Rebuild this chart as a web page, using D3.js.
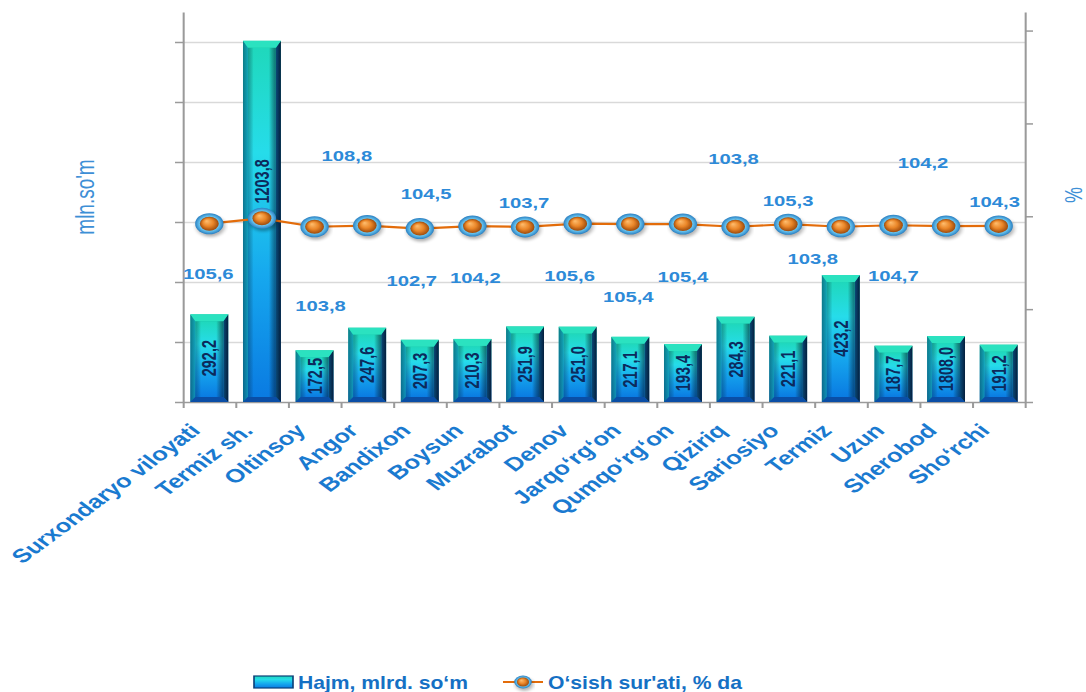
<!DOCTYPE html>
<html>
<head>
<meta charset="utf-8">
<script src="https://cdn.jsdelivr.net/npm/d3@7"></script>
<style>
  body { margin: 0; background: #fff; }
  svg { display: block; }
  text { font-family: "Liberation Sans", Arial, sans-serif; }
</style>
</head>
<body>
<div id="chart"></div>
<script>
// Chart data
const categories = ['Surxondaryo viloyati', 'Termiz sh.', 'Oltinsoy', 'Angor', 'Bandixon', 'Boysun', 'Muzrabot', 'Denov',
  'Jarqo‘rg‘on', 'Qumqo‘rg‘on', 'Qiziriq', 'Sariosiyo', 'Termiz', 'Uzun', 'Sherobod', 'Sho‘rchi'];
const volume = [292.2, 1203.8, 172.5, 247.6, 207.3, 210.3, 251.9, 251.0, 217.1, 193.4, 284.3, 221.1, 423.2, 187.7, 220.0, 191.2];
// printed bar labels (as they appear in the source, incl. the odd "1808,0")
const volumeText = ['292,2', '1203,8', '172,5', '247,6', '207,3', '210,3', '251,9', '251,0', '217,1', '193,4', '284,3', '221,1', '423,2', '187,7', '1808,0', '191,2'];
const growth = [105.6, 108.8, 103.8, 104.5, 102.7, 104.2, 103.7, 105.6, 105.4, 105.4, 103.8, 105.3, 103.8, 104.7, 104.2, 104.3];
const leftTicks = [0, 200, 400, 600, 800, 1000, 1200];
const rightTicks = [0, 55, 110, 165, 220];
const seriesNames = ['Hajm, mlrd. so‘m', 'O‘sish sur\'ati, % da'];

// label nudges, in screen pixels
const growthLabelShift = [[-1, 50], [85, -63], [6, 79], [59, -32], [-8, 52], [3, 52], [-1, -24], [-8, 52],
  [-2, 73], [0, 53], [-2, -68], [0, -24], [-28, 32], [0, 50], [-23, -63], [-4, -24]];
const volumeLabelShift = [0, -40, 0, 0, 0, 0, 0, 0, 0, 0, 0, 0, 0, 0, 0, 0];

// the source picture is stretched sideways, so draw in a scaled group
const SX = 1.35;
const u = p => p / SX;

const svg = d3.select('#chart').append('svg')
  .attr('width', 1086)
  .attr('height', 692);

const defs = svg.append('defs');

function linGrad(id, stops, horizontal) {
  const gr = defs.append('linearGradient').attr('id', id)
    .attr('x1', 0).attr('y1', 0)
    .attr('x2', horizontal ? 1 : 0).attr('y2', horizontal ? 0 : 1);
  stops.forEach(s => gr.append('stop').attr('offset', s[0]).attr('stop-color', s[1]).attr('stop-opacity', s[2] == null ? 1 : s[2]));
}
linGrad('barOuter', [[0, '#15c6a0'], [0.45, '#17a3d2'], [1, '#0a58b4']]);
linGrad('barInner', [[0, '#1fd8bc'], [0.3, '#26dcea'], [0.65, '#16a8ee'], [1, '#0a7be2']]);
linGrad('barShade', [[0, '#002a40', 0.35], [0.2, '#000', 0], [0.75, '#000', 0], [1, '#001830', 0.55]], true);
linGrad('barRight', [[0, '#0a4a78'], [1, '#041e3c']], true);
linGrad('barLeft', [[0, '#0b6a80'], [1, '#11a0b8']], true);

const ring = defs.append('radialGradient').attr('id', 'ring');
ring.append('stop').attr('offset', 0).attr('stop-color', '#c9efff');
ring.append('stop').attr('offset', 0.7).attr('stop-color', '#66c2ee');
ring.append('stop').attr('offset', 1).attr('stop-color', '#2a80c2');
const orange = defs.append('radialGradient').attr('id', 'orange').attr('fx', 0.35).attr('fy', 0.3);
orange.append('stop').attr('offset', 0).attr('stop-color', '#ffbf70');
orange.append('stop').attr('offset', 0.55).attr('stop-color', '#ea8628');
orange.append('stop').attr('offset', 1).attr('stop-color', '#9c4a0c');

defs.append('filter').attr('id', 'blur').append('feGaussianBlur').attr('stdDeviation', 1.6);

const g = svg.append('g').attr('transform', `scale(${SX},1)`);

// Scales
const x = d3.scaleBand()
  .domain(categories)
  .range([u(183), u(1025)])
  .paddingInner(0.28)
  .paddingOuter(0.14);
const yL = d3.scaleLinear().domain([0, 1300]).range([402, 12]);
const yR = d3.scaleLinear().domain([0, 231]).range([402, 12]);
const xEdge = d3.scaleLinear().domain([0, categories.length]).range([u(183), u(1025)]);

// Gridlines
g.append('g')
  .attr('transform', `translate(${u(183)},0)`)
  .call(d3.axisLeft(yL).tickValues(leftTicks.slice(1)).tickSize(-(u(1025) - u(183))).tickFormat(''))
  .call(s => s.select('.domain').remove())
  .selectAll('line').attr('stroke', '#d9d9d9').attr('stroke-width', 1.5);

// Axes (no tick labels in the source)
g.append('g')
  .attr('transform', `translate(${u(183)},0)`)
  .call(d3.axisLeft(yL).tickValues(leftTicks).tickFormat('').tickSize(u(8)).tickSizeOuter(0))
  .call(s => s.selectAll('path,line').attr('stroke', '#9a9a9a').attr('stroke-width', 1.5));

g.append('g')
  .attr('transform', `translate(${u(1025)},0)`)
  .call(d3.axisRight(yR).tickValues(rightTicks).tickFormat('').tickSize(u(8)).tickSizeOuter(0))
  .call(s => s.selectAll('path,line').attr('stroke', '#9a9a9a').attr('stroke-width', 1.5));

g.append('g')
  .attr('transform', 'translate(0,402)')
  .call(d3.axisBottom(xEdge).ticks(categories.length).tickFormat('').tickSize(6).tickSizeOuter(0))
  .call(s => s.selectAll('path,line').attr('stroke', '#9a9a9a').attr('stroke-width', 1.5));

// Bars
const bw = x.bandwidth();
const ins = u(5);
const bars = g.selectAll('.bar')
  .data(categories)
  .join('g')
  .attr('class', 'bar');

bars.each(function (c, i) {
  const b = d3.select(this);
  const x0 = x(c);
  const y0 = yL(volume[i]);
  const y1 = yL(0);
  b.append('rect').attr('x', x0).attr('y', y0).attr('width', bw).attr('height', y1 - y0).attr('fill', 'url(#barOuter)');
  // left and right bevels
  b.append('polygon')
    .attr('points', [[x0, y0], [x0 + ins, y0 + 7], [x0 + ins, y1 - 5], [x0, y1]].join(' '))
    .attr('fill', 'url(#barLeft)').attr('opacity', 0.8);
  b.append('polygon')
    .attr('points', [[x0 + bw, y0], [x0 + bw - ins, y0 + 7], [x0 + bw - ins, y1 - 5], [x0 + bw, y1]].join(' '))
    .attr('fill', 'url(#barRight)');
  // top cap
  b.append('polygon')
    .attr('points', [[x0, y0], [x0 + bw, y0], [x0 + bw - ins, y0 + 7], [x0 + ins, y0 + 7]].join(' '))
    .attr('fill', '#2be2c0');
  // bottom cap
  b.append('polygon')
    .attr('points', [[x0, y1], [x0 + bw, y1], [x0 + bw - ins, y1 - 5], [x0 + ins, y1 - 5]].join(' '))
    .attr('fill', '#0a4ea6');
  b.append('rect').attr('x', x0 + ins).attr('y', y0 + 7).attr('width', bw - 2 * ins).attr('height', Math.max(0, y1 - y0 - 12))
    .attr('fill', 'url(#barInner)');
  b.append('rect').attr('x', x0 + ins).attr('y', y0 + 7).attr('width', bw - 2 * ins).attr('height', Math.max(0, y1 - y0 - 12))
    .attr('fill', 'url(#barShade)');
  b.append('text')
    .attr('transform', `translate(${x0 + bw / 2},${(y0 + y1) / 2 + volumeLabelShift[i]}) rotate(-90)`)
    .attr('text-anchor', 'middle')
    .attr('dy', '0.36em')
    .attr('font-size', 14.5)
    .attr('font-weight', 'bold')
    .attr('fill', '#0c2a5c')
    .text(volumeText[i]);
});

// Growth line
const cx = i => x(categories[i]) + bw / 2;
const line = d3.line()
  .x((d, i) => cx(i))
  .y(d => yR(d));

g.append('path')
  .datum(growth)
  .attr('d', line)
  .attr('fill', 'none')
  .attr('stroke', '#e36c0a')
  .attr('stroke-width', 2.2);

function marker(sel, r1, r2) {
  sel.append('circle').attr('cx', 1).attr('cy', 2.5).attr('r', r1).attr('fill', '#000').attr('opacity', 0.3).attr('filter', 'url(#blur)');
  sel.append('circle').attr('r', r1).attr('fill', 'url(#ring)');
  sel.append('circle').attr('r', r2).attr('fill', 'url(#orange)');
}

g.selectAll('.pt')
  .data(growth)
  .join('g')
  .attr('class', 'pt')
  .attr('transform', (d, i) => `translate(${cx(i)},${yR(d)})`)
  .each(function () { marker(d3.select(this), 10.5, 7); });

const fmt = v => d3.format('.1f')(v).replace('.', ',');
g.selectAll('.glabel')
  .data(growth)
  .join('text')
  .attr('class', 'glabel')
  .attr('x', (d, i) => cx(i) + u(growthLabelShift[i][0]))
  .attr('y', (d, i) => yR(d) + growthLabelShift[i][1])
  .attr('dy', '0.36em')
  .attr('text-anchor', 'middle')
  .attr('font-size', 15)
  .attr('font-weight', 'bold')
  .attr('fill', '#2d8ad8')
  .text(fmt);

// Category labels
g.append('g')
  .attr('transform', 'translate(0,402)')
  .call(d3.axisBottom(x).tickSize(0))
  .call(s => s.select('.domain').remove())
  .selectAll('text')
  .attr('x', 0)
  .attr('y', 0)
  .attr('dy', '0.35em')
  .attr('text-anchor', 'end')
  .attr('transform', `translate(${-u(14)},25) rotate(-45)`)
  .attr('font-size', 19)
  .attr('font-weight', 'bold')
  .attr('font-family', '"Liberation Sans", Arial, sans-serif')
  .attr('fill', '#1a7ad0');

// Axis titles
g.append('text')
  .attr('transform', `translate(${u(85)},197) rotate(-90)`)
  .attr('text-anchor', 'middle')
  .attr('dy', '0.35em')
  .attr('font-size', 19)
  .attr('fill', '#3d8fd6')
  .text('mln.so\'m');

g.append('text')
  .attr('transform', `translate(${u(1073)},195) rotate(-90)`)
  .attr('text-anchor', 'middle')
  .attr('dy', '0.35em')
  .attr('font-size', 18)
  .attr('fill', '#3d8fd6')
  .text('%');

// Legend
const lg = g.append('g');
lg.append('rect').attr('x', u(254)).attr('y', 676).attr('width', u(39)).attr('height', 12)
  .attr('fill', 'url(#barInner)').attr('stroke', '#0a3f78').attr('stroke-width', 1.2);
lg.append('text').attr('x', u(298)).attr('y', 689)
  .attr('font-size', 18).attr('font-weight', 'bold').attr('fill', '#1570c4')
  .attr('textLength', u(170)).attr('lengthAdjust', 'spacingAndGlyphs')
  .text(seriesNames[0]);
lg.append('line').attr('x1', u(503)).attr('x2', u(543)).attr('y1', 682).attr('y2', 682)
  .attr('stroke', '#e36c0a').attr('stroke-width', 2.2);
lg.append('g').attr('transform', `translate(${u(523)},682)`).call(s => marker(s, 6.5, 4.5));
lg.append('text').attr('x', u(548)).attr('y', 689)
  .attr('font-size', 18).attr('font-weight', 'bold').attr('fill', '#1570c4')
  .attr('textLength', u(194)).attr('lengthAdjust', 'spacingAndGlyphs')
  .text(seriesNames[1]);
</script>
</body>
</html>
